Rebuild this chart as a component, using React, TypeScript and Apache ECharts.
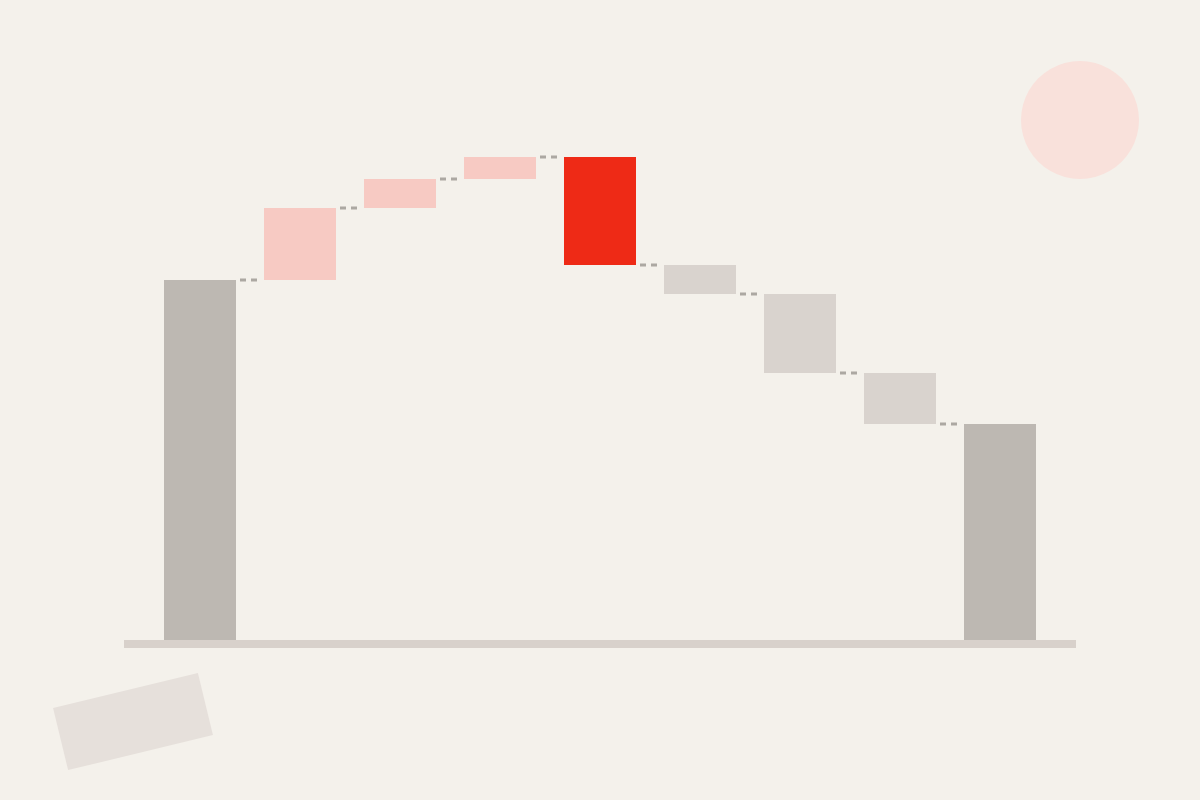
import React, { useEffect, useRef } from "react";
import * as echarts from "echarts";

const categories = ["Start", "Q1", "Q2", "Q3", "Q4", "Q5", "Q6", "Q7", "End"];
const startValue = 360;
const deltas = [72, 29, 22, -108, -29, -79, -51];
const endValue = 216;
const barColors = [
  "#bdb8b2",
  "#f7cac3",
  "#f7cac3",
  "#f7cac3",
  "#ee2a16",
  "#d9d3ce",
  "#d9d3ce",
  "#d9d3ce",
  "#bdb8b2",
];

export default function App() {
  const ref = useRef<HTMLDivElement>(null);

  useEffect(() => {
    if (!ref.current) return;
    const chart = echarts.init(ref.current, undefined, { renderer: "svg" });

    // build waterfall pieces
    const baseData: number[] = [0];
    const barData: number[] = [startValue];
    const levels: number[] = [startValue];
    let cum = startValue;
    deltas.forEach((d) => {
      const next = cum + d;
      baseData.push(Math.min(cum, next));
      barData.push(Math.abs(d));
      cum = next;
      levels.push(cum);
    });
    baseData.push(0);
    barData.push(endValue);

    const connectorData = levels.map((v, i) => [i, v]);

    chart.setOption({
      animation: false,
      backgroundColor: "#f4f1eb",
      grid: { left: 150, right: 150, top: 40, bottom: 160 },
      xAxis: {
        type: "category",
        data: categories,
        show: false,
      },
      yAxis: { type: "value", min: 0, max: 600, show: false },
      graphic: [
        {
          type: "circle",
          shape: { cx: 1080, cy: 120, r: 59 },
          style: { fill: "#f9e1db" },
          z: -1,
        },
        {
          type: "rect",
          x: 133,
          y: 721.5,
          rotation: (13.6 * Math.PI) / 180,
          shape: { x: -74.5, y: -32, width: 149, height: 64 },
          style: { fill: "#e6e0db" },
          z: -1,
        },
        {
          type: "rect",
          shape: { x: 124, y: 640, width: 952, height: 8 },
          style: { fill: "#d8d1cb" },
          z: -1,
        },
      ],
      series: [
        {
          type: "bar",
          stack: "wf",
          barWidth: 72,
          silent: true,
          itemStyle: { color: "transparent" },
          data: baseData,
        },
        {
          type: "bar",
          stack: "wf",
          barWidth: 72,
          data: barData.map((v, i) => ({
            value: v,
            itemStyle: { color: barColors[i] },
          })),
        },
        {
          type: "custom",
          silent: true,
          data: connectorData,
          renderItem: (params: any, api: any) => {
            const p = api.coord([api.value(0), api.value(1)]);
            return {
              type: "line",
              shape: { x1: p[0] + 40, y1: p[1], x2: p[0] + 57, y2: p[1] },
              style: { stroke: "#aca8a2", lineWidth: 3, lineDash: [6, 5] },
            };
          },
        },
      ],
    });

    return () => chart.dispose();
  }, []);

  return (
    <div
      ref={ref}
      style={{ position: "fixed", left: 0, top: 0, width: 1200, height: 800 }}
    />
  );
}
